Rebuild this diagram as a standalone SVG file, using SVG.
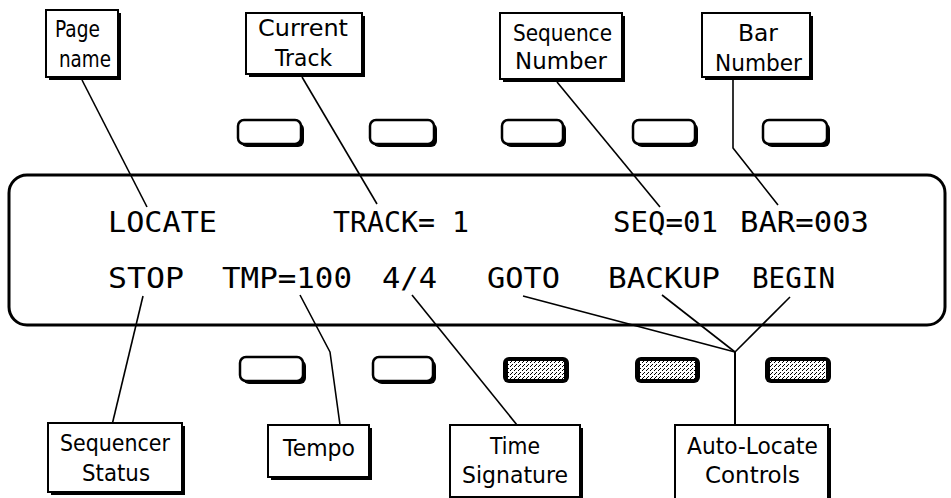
<svg xmlns="http://www.w3.org/2000/svg" width="951" height="498" viewBox="0 0 951 498">
<style>
.box{fill:#fff;stroke:#000;stroke-width:2}
.sh{fill:#000}
.lbl{font-family:"DejaVu Sans","Liberation Sans",sans-serif;font-size:23px;fill:#000}
.lcd{font-family:"DejaVu Sans Mono","Liberation Mono",monospace;font-size:28px;fill:#000}
.btn{fill:#fff;stroke:#000;stroke-width:2.5}
.con{fill:none;stroke:#000;stroke-width:1.6;stroke-linejoin:round}
</style>
<defs>
<pattern id="dither" width="4" height="4" patternUnits="userSpaceOnUse">
<rect width="4" height="4" fill="#fff"/>
<rect x="0" y="0" width="1" height="1" fill="#000"/>
<rect x="2" y="2" width="1" height="1" fill="#000"/>
<rect x="3" y="1" width="1" height="1" fill="#000"/>
</pattern>
</defs>
<rect width="951" height="498" fill="#fff"/>

<g id="display">
<rect x="9" y="175" width="936" height="150" rx="18" fill="none" stroke="#000" stroke-width="3"/>
<text class="lcd" x="108" y="232" textLength="109" lengthAdjust="spacingAndGlyphs">LOCATE</text>
<text class="lcd" x="333" y="232" textLength="136" lengthAdjust="spacingAndGlyphs">TRACK= 1</text>
<text class="lcd" x="613" y="232" textLength="105" lengthAdjust="spacingAndGlyphs">SEQ=01</text>
<text class="lcd" x="740" y="232" textLength="129" lengthAdjust="spacingAndGlyphs">BAR=003</text>
<text class="lcd" x="108" y="288" textLength="76" lengthAdjust="spacingAndGlyphs">STOP</text>
<text class="lcd" x="222" y="288" textLength="130" lengthAdjust="spacingAndGlyphs">TMP=100</text>
<text class="lcd" x="382" y="288" textLength="55" lengthAdjust="spacingAndGlyphs">4/4</text>
<text class="lcd" x="487" y="288" textLength="73" lengthAdjust="spacingAndGlyphs">GOTO</text>
<text class="lcd" x="608" y="288" textLength="112" lengthAdjust="spacingAndGlyphs">BACKUP</text>
<text class="lcd" x="752" y="288" textLength="83" lengthAdjust="spacingAndGlyphs">BEGIN</text>
</g>

<g id="top-buttons">
<rect class="sh" x="241" y="123" width="63" height="24" rx="6"/>
<rect class="btn" x="238" y="120" width="63" height="24" rx="6"/>
<rect class="sh" x="373" y="123" width="64" height="24" rx="6"/>
<rect class="btn" x="370" y="120" width="64" height="24" rx="6"/>
<rect class="sh" x="505" y="123" width="61" height="24" rx="6"/>
<rect class="btn" x="502" y="120" width="61" height="24" rx="6"/>
<rect class="sh" x="636" y="123" width="62" height="24" rx="6"/>
<rect class="btn" x="633" y="120" width="62" height="24" rx="6"/>
<rect class="sh" x="766" y="123" width="64" height="24" rx="6"/>
<rect class="btn" x="763" y="120" width="64" height="24" rx="6"/>
</g>

<g id="bottom-buttons">
<rect class="sh" x="243" y="360" width="63" height="24" rx="6"/>
<rect class="btn" x="240" y="357" width="63" height="24" rx="6"/>
<rect class="sh" x="376" y="360" width="60" height="24" rx="6"/>
<rect class="btn" x="373" y="357" width="60" height="24" rx="6"/>
<rect x="503" y="357" width="66" height="26" rx="6" fill="#000"/>
<rect x="508" y="361" width="56" height="18" fill="url(#dither)"/>
<rect x="635" y="357" width="65" height="26" rx="6" fill="#000"/>
<rect x="640" y="361" width="55" height="18" fill="url(#dither)"/>
<rect x="765" y="357" width="66" height="26" rx="6" fill="#000"/>
<rect x="770" y="361" width="56" height="18" fill="url(#dither)"/>
</g>

<g id="connectors">
<polyline class="con" points="82,80 147,207"/>
<polyline class="con" points="302,77 377,204"/>
<polyline class="con" points="557,82 660,207"/>
<polyline class="con" points="733,80 733,148 778,205"/>
<polyline class="con" points="143,296 112,425"/>
<polyline class="con" points="300,295 330,352 340,425"/>
<polyline class="con" points="412,295 517,425"/>
<polyline class="con" points="523,296 735,352"/>
<polyline class="con" points="662,295 735,352"/>
<polyline class="con" points="790,297 735,352"/>
<polyline class="con" points="735,352 735,425" style="stroke-width:2"/>
</g>

<g id="page-name">
<rect class="sh" x="49" y="13" width="72" height="67"/>
<rect class="box" x="46" y="10" width="72" height="67"/>
<text class="lbl" x="55" y="37" textLength="45" lengthAdjust="spacingAndGlyphs">Page</text>
<text class="lbl" x="59" y="67" textLength="52" lengthAdjust="spacingAndGlyphs">name</text>
</g>

<g id="current-track">
<rect class="sh" x="249" y="16" width="116" height="61"/>
<rect class="box" x="246" y="13" width="116" height="61"/>
<text class="lbl" x="258" y="36" textLength="90" lengthAdjust="spacingAndGlyphs">Current</text>
<text class="lbl" x="275" y="66" textLength="57" lengthAdjust="spacingAndGlyphs">Track</text>
</g>

<g id="sequence-number">
<rect class="sh" x="503" y="16" width="122" height="66"/>
<rect class="box" x="500" y="13" width="122" height="66"/>
<text class="lbl" x="513" y="41" textLength="99" lengthAdjust="spacingAndGlyphs">Sequence</text>
<text class="lbl" x="515" y="69" textLength="92" lengthAdjust="spacingAndGlyphs">Number</text>
</g>

<g id="bar-number">
<rect class="sh" x="705" y="16" width="108" height="64"/>
<rect class="box" x="702" y="13" width="108" height="64"/>
<text class="lbl" x="738" y="41" textLength="40" lengthAdjust="spacingAndGlyphs">Bar</text>
<text class="lbl" x="715" y="71" textLength="87" lengthAdjust="spacingAndGlyphs">Number</text>
</g>

<g id="sequencer-status">
<rect class="sh" x="51" y="426" width="134" height="69"/>
<rect class="box" x="48" y="423" width="134" height="69"/>
<text class="lbl" x="60" y="451" textLength="110" lengthAdjust="spacingAndGlyphs">Sequencer</text>
<text class="lbl" x="82" y="481" textLength="68" lengthAdjust="spacingAndGlyphs">Status</text>
</g>

<g id="tempo">
<rect class="sh" x="271" y="428" width="101" height="52"/>
<rect class="box" x="268" y="425" width="101" height="52"/>
<text class="lbl" x="283" y="456" textLength="72" lengthAdjust="spacingAndGlyphs">Tempo</text>
</g>

<g id="time-signature">
<rect class="sh" x="453" y="428" width="130" height="72"/>
<rect class="box" x="450" y="425" width="130" height="72"/>
<text class="lbl" x="490" y="454" textLength="50" lengthAdjust="spacingAndGlyphs">Time</text>
<text class="lbl" x="462" y="483" textLength="106" lengthAdjust="spacingAndGlyphs">Signature</text>
</g>

<g id="auto-locate-controls">
<rect class="sh" x="678" y="428" width="153" height="75"/>
<rect class="box" x="675" y="425" width="153" height="75"/>
<text class="lbl" x="687" y="454" textLength="131" lengthAdjust="spacingAndGlyphs">Auto-Locate</text>
<text class="lbl" x="705" y="483" textLength="95" lengthAdjust="spacingAndGlyphs">Controls</text>
</g>
</svg>
